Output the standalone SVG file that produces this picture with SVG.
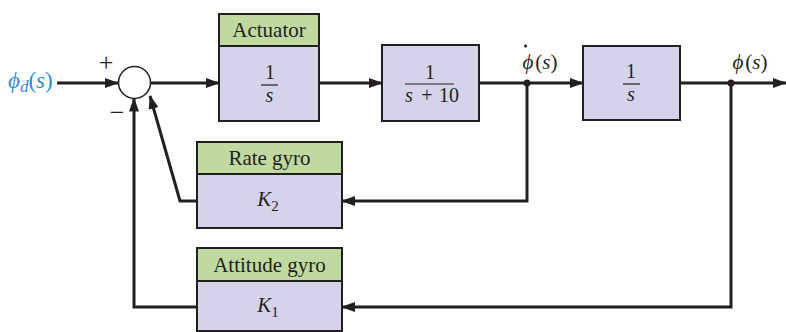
<svg xmlns="http://www.w3.org/2000/svg" width="786" height="332" viewBox="0 0 786 332">
<defs>
<marker id="ah" markerWidth="14" markerHeight="10" refX="13" refY="5" orient="auto" markerUnits="userSpaceOnUse">
<path d="M0,0 L14,5 L0,10 Z" fill="#231f20"/>
</marker>
<style>
.hdr{fill:#c0d9a0;stroke:#231f20;stroke-width:2}
.body{fill:#d4d3ea;stroke:#231f20;stroke-width:2}
.t{font-family:"Liberation Serif",serif;font-size:21px;fill:#231f20;text-anchor:middle}
.m{font-family:"Liberation Serif",serif;font-size:21px;font-style:italic;fill:#231f20;text-anchor:middle}
.n{font-family:"Liberation Serif",serif;font-size:21px;fill:#231f20;text-anchor:middle}
.fn{font-family:"Liberation Serif",serif;font-size:20px;fill:#231f20;text-anchor:middle}
.fi{font-family:"Liberation Serif",serif;font-size:20px;font-style:italic;fill:#231f20;text-anchor:middle}
.w{stroke:#231f20;stroke-width:3;fill:none}
.fr{stroke:#231f20;stroke-width:1.2}
.sub{font-size:15px;font-style:normal}
</style>
</defs>
<rect width="786" height="332" fill="#fff"/>
<g id="input">
<text x="8" y="88" font-family="Liberation Serif,serif" font-size="23" font-style="italic" fill="#2b8fd0">ϕ<tspan font-size="17" dy="4">d</tspan><tspan dy="-4" font-style="normal">(</tspan>s<tspan font-style="normal">)</tspan></text>
</g>
<g id="sum">
<circle cx="134.5" cy="82.5" r="16" fill="#fff" stroke="#231f20" stroke-width="1.5"/>
<text x="106" y="71" class="n" style="font-size:26px">+</text>
<text x="117" y="121" class="n" style="font-size:26px">−</text>
</g>
<g id="actuator">
<rect x="219" y="14" width="100" height="32" class="hdr"/>
<rect x="219" y="46" width="100" height="75" class="body"/>
<text x="269" y="37" class="t">Actuator</text>
<text x="270" y="79" class="fn">1</text>
<line x1="261" y1="85" x2="278" y2="85" class="fr"/>
<text x="269.5" y="102" class="fi">s</text>
</g>
<g id="plant1">
<rect x="382" y="45" width="97" height="76" class="body"/>
<text x="430" y="79" class="fn">1</text>
<line x1="405" y1="84" x2="454" y2="84" class="fr"/>
<text x="409" y="102" class="fi">s</text>
<text x="427" y="102" class="fn">+</text>
<text x="449" y="102" class="fn">10</text>
</g>
<g id="integrator">
<rect x="583" y="46" width="97" height="74" class="body"/>
<text x="631" y="78" class="fn">1</text>
<line x1="623" y1="84" x2="640" y2="84" class="fr"/>
<text x="631" y="101" class="fi">s</text>
</g>
<g id="rategyro">
<rect x="197" y="142" width="145" height="32" class="hdr"/>
<rect x="197" y="174" width="145" height="54" class="body"/>
<text x="269.5" y="165" class="t">Rate gyro</text>
<text x="268" y="206" class="m">K<tspan class="sub" dy="5">2</tspan></text>
</g>
<g id="attitudegyro">
<rect x="197" y="248" width="145" height="33" class="hdr"/>
<rect x="197" y="281" width="145" height="50" class="body"/>
<text x="269.5" y="272" class="t">Attitude gyro</text>
<text x="268" y="312" class="m">K<tspan class="sub" dy="5">1</tspan></text>
</g>
<g id="labels">
<text x="540" y="69" class="m">ϕ<tspan font-style="normal" dx="2">(</tspan>s<tspan font-style="normal">)</tspan></text>
<circle cx="525.5" cy="46" r="1.5" fill="#231f20"/>
<text x="750" y="69" class="m">ϕ<tspan font-style="normal" dx="2">(</tspan>s<tspan font-style="normal">)</tspan></text>
</g>
<g id="connectors">
<line x1="57" y1="83" x2="118" y2="83" class="w" marker-end="url(#ah)"/>
<line x1="151" y1="83" x2="219" y2="83" class="w" marker-end="url(#ah)"/>
<line x1="319" y1="83" x2="382" y2="83" class="w" marker-end="url(#ah)"/>
<line x1="479" y1="83" x2="583" y2="83" class="w" marker-end="url(#ah)"/>
<line x1="680" y1="83" x2="786" y2="83" class="w" marker-end="url(#ah)"/>
<polyline points="527,83 527,201 342,201" class="w" marker-end="url(#ah)"/>
<polyline points="197,201 180,201 150,96" class="w" marker-end="url(#ah)"/>
<polyline points="731,83 731,307 342,307" class="w" marker-end="url(#ah)"/>
<polyline points="197,307 134,307 134,98.5" class="w" marker-end="url(#ah)"/>
<circle cx="527" cy="83" r="3.5" fill="#231f20"/>
<circle cx="731" cy="83" r="3.5" fill="#231f20"/>
</g>
</svg>
